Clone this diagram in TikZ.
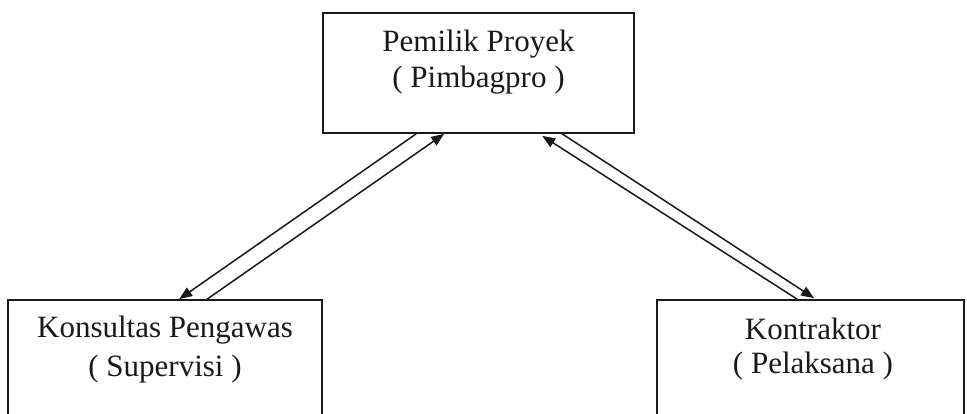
\documentclass[tikz,border=0pt]{standalone}
\usepackage{fontspec}
\setmainfont{Liberation Serif}
\usetikzlibrary{arrows.meta,calc}
\tikzset{
  boxnode/.style={draw=black!90, line width=1.7pt, rectangle, inner sep=0pt, fill=none},
  lbl/.style={inner sep=0pt, anchor=base, font=\fontsize{31}{36}\selectfont, text=black!90},
  conn/.style={draw=black!90, line width=1.5pt, -{Triangle[length=13pt,width=10pt]}}
}
\begin{document}
\begin{tikzpicture}[x=1pt,y=-1pt]
\clip (0,0) rectangle (967,414);
\fill[white] (0,0) rectangle (967,414);
% boxes
\node[boxnode, minimum width=311pt, minimum height=120pt] (top) at (478.5,73) {};
\node[boxnode, minimum width=314pt, minimum height=160pt] (left) at (165,380) {};
\node[boxnode, minimum width=307pt, minimum height=160pt] (right) at (810.5,380) {};
% texts
\node[lbl] (t1) at (478.5,52) {Pemilik Proyek};
\node[lbl] (t2) at (478.5,88) {( Pimbagpro )};
\node[lbl] (l1) at (165,337) {Konsultas Pengawas};
\node[lbl] (l2) at (165,376) {( Supervisi )};
\node[lbl] (r1) at (813,339) {Kontraktor};
\node[lbl] (r2) at (813,373) {( Pelaksana )};
% connectors
\draw[conn] ($(top.south west)+(94,0)$) -- ($(left.north west)+(172,0)$);
\draw[conn] ($(left.north west)+(200,0)$) -- ($(top.south west)+(122,0)$);
\draw[conn] ($(right.north west)+(141,0)$) -- ($(top.south west)+(220,2)$);
\draw[conn] ($(top.south west)+(240,0)$) -- ($(right.north west)+(158,-1)$);
\end{tikzpicture}
\end{document}
